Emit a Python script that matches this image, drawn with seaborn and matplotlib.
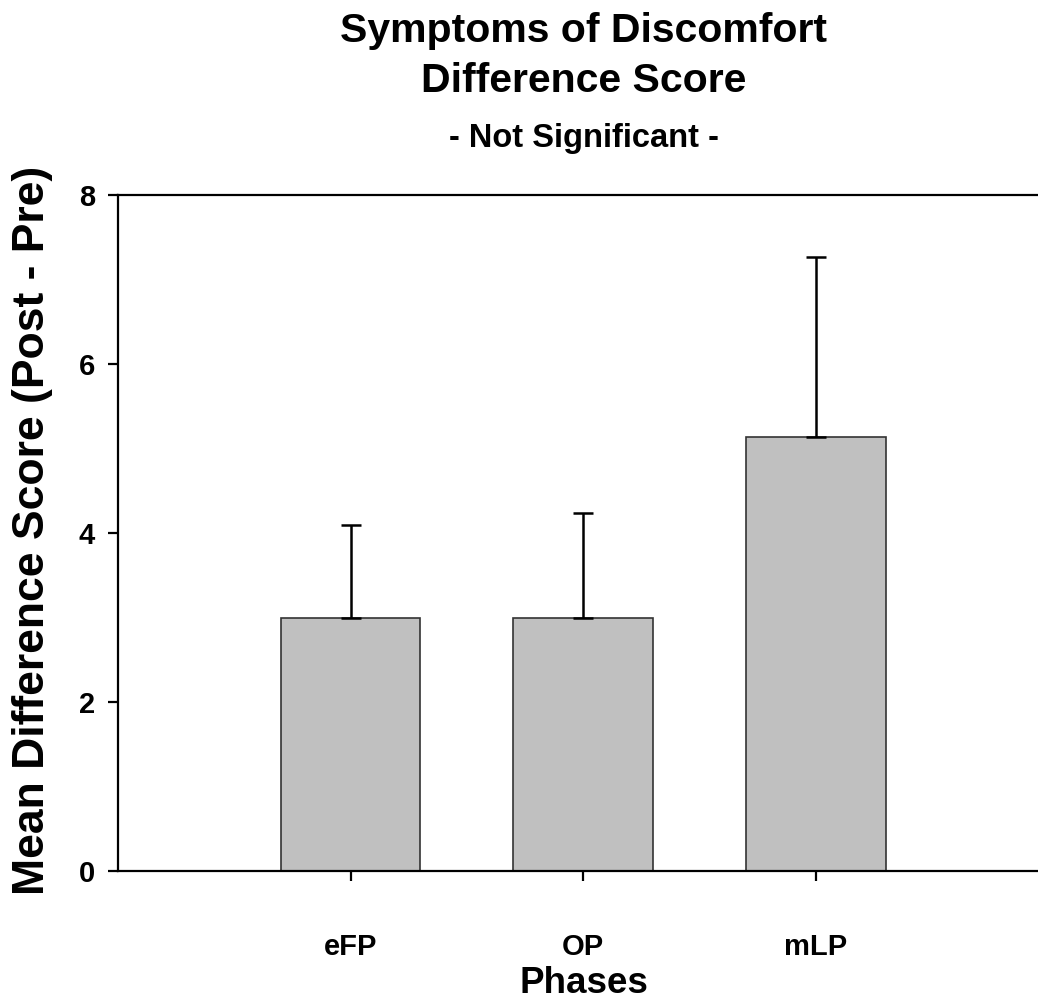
import matplotlib
matplotlib.use("Agg")
import matplotlib.pyplot as plt
import seaborn as sns
import pandas as pd

# Mean difference scores (post - pre) and their standard errors per phase
phases = ["eFP", "OP", "mLP"]
means = [3.0, 3.0, 5.14]
sem = [1.09, 1.24, 2.13]
y_ticks = [0, 2, 4, 6, 8]

sns.set_style("white")
plt.rcParams["font.family"] = ["Liberation Sans", "DejaVu Sans"]
plt.rcParams["font.weight"] = "bold"
plt.rcParams["text.color"] = "black"
plt.rcParams["axes.labelcolor"] = "black"
plt.rcParams["xtick.color"] = "black"
plt.rcParams["ytick.color"] = "black"

df = pd.DataFrame({"Phase": phases, "Mean": means, "SEM": sem})

fig = plt.figure(figsize=(10.38, 9.99), dpi=100)
ax = fig.add_axes([118 / 1038, 1 - 871 / 999, 920 / 1038, 676 / 999])

sns.barplot(data=df, x="Phase", y="Mean", ax=ax, color="#c0c0c0",
            saturation=1, width=0.6, edgecolor="#333333", linewidth=1.2,
            errorbar=None)

# one-sided (upper) error bars
ax.errorbar(range(len(phases)), df["Mean"],
            yerr=[[0] * len(phases), df["SEM"]],
            fmt="none", ecolor="black", elinewidth=1.8,
            capsize=7.5, capthick=1.8, zorder=3)

ax.set_xlim(-1.0, 2.955)
ax.set_ylim(0, 8)
ax.set_yticks(y_ticks)
ax.set_yticklabels([str(t) for t in y_ticks])

for side in ["left", "bottom", "top"]:
    ax.spines[side].set_visible(True)
    ax.spines[side].set_color("black")
    ax.spines[side].set_linewidth(1.6)
ax.spines["right"].set_visible(False)

ax.tick_params(axis="both", which="major", direction="out", length=7.5,
               width=1.6, color="black", labelcolor="black", labelsize=21,
               left=True, bottom=True)
ax.tick_params(axis="y", pad=9)
ax.tick_params(axis="x", pad=37)
for lbl in ax.get_xticklabels() + ax.get_yticklabels():
    lbl.set_fontweight("bold")

ax.set_xlabel("")
ax.set_ylabel("")
fig.text(33 / 1038, 1 - 530 / 999, "Mean Difference Score (Post - Pre)",
         rotation=90, ha="center", va="center", fontsize=32,
         fontweight="bold")
fig.text(584 / 1038, 1 - 993 / 999, "Phases", ha="center", va="baseline",
         fontsize=26.5, fontweight="bold")

fig.text(584 / 1038, 1 - 56 / 999, "Symptoms of Discomfort\nDifference Score",
         ha="center", va="center", fontsize=29.5, fontweight="bold",
         linespacing=1.38)
fig.text(584 / 1038, 1 - 138 / 999, "- Not Significant -", ha="center",
         va="center", fontsize=23.5, fontweight="bold")

fig.savefig("out.png", dpi=100)
